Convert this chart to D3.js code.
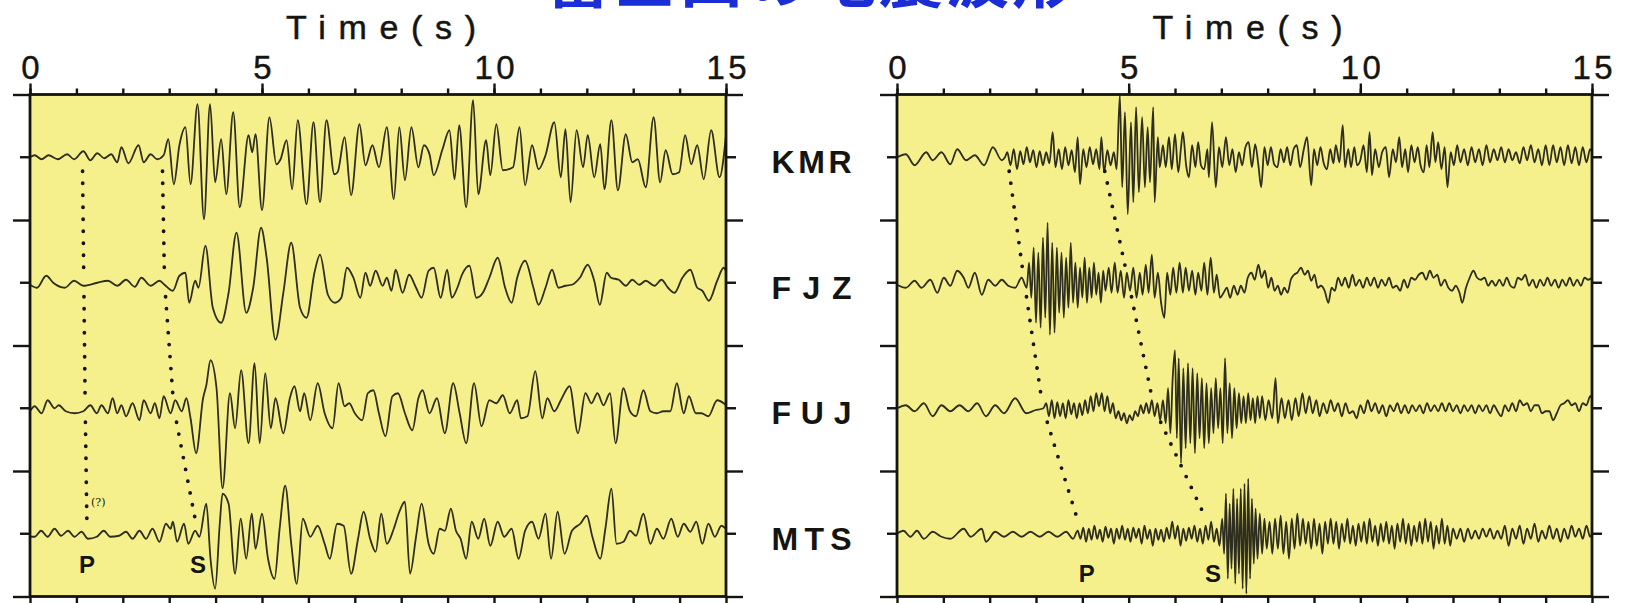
<!DOCTYPE html>
<html>
<head>
<meta charset="utf-8">
<script src="https://cdn.jsdelivr.net/npm/d3@7/dist/d3.min.js"></script>
<style>
body{margin:0;background:#fff;}
svg{display:block;}
</style>
</head>
<body>
<div id="app"></div>
<script>
// ---- data (time in s, amplitude in relative units) ----
const title = '富士山の地震波形'
const axisTitle = 'Time(s)'
const stations = ['KMR', 'FJZ', 'FUJ', 'MTS']
const majorTicks = [0, 5, 10, 15]
const minorTicks = [0, 1, 2, 3, 4, 5, 6, 7, 8, 9, 10, 11, 12, 13, 14, 15]

// P / S arrival picks per station (KMR, FJZ, FUJ, MTS)
const pLeft = [1.13, 1.16, 1.19, 1.23]
const sLeft = [2.85, 2.9, 3.1, 3.62]
const pRight = [2.38, 2.75, 3.15, 3.99]
const sRight = [4.42, 5.0, 5.55, 6.82]

const kmrLeft = [[0,0],[0.1,2],[0.25,-2],[0.4,2],[0.6,-2],[0.8,3],[0.95,-2],[1.15,6],[1.3,-3],[1.45,4],[1.6,-1],[1.75,3],[1.88,-5],[1.97,10],[2.12,-6],[2.34,12],[2.45,-5],[2.6,3],[2.74,-2],[2.88,2],[2.98,18],[3.10,-27],[3.22,12],[3.35,30],[3.46,-27],[3.61,53],[3.75,-62],[3.88,53],[3.99,-25],[4.12,18],[4.23,-37],[4.38,45],[4.52,-50],[4.71,22],[4.79,5],[4.86,23],[5.00,-53],[5.16,40],[5.31,-7],[5.40,-2],[5.53,17],[5.65,-32],[5.77,37],[5.96,-47],[6.11,35],[6.25,-45],[6.39,37],[6.56,-17],[6.63,-15],[6.78,20],[6.92,-38],[7.10,33],[7.23,-8],[7.38,12],[7.52,-10],[7.69,30],[7.84,-42],[7.96,30],[8.08,-23],[8.22,30],[8.37,-10],[8.49,12],[8.61,3],[8.70,-18],[8.89,8],[9.04,27],[9.15,-22],[9.25,32],[9.40,-50],[9.55,57],[9.66,-37],[9.83,17],[9.92,-18],[10.05,33],[10.19,-13],[10.41,-10],[10.55,30],[10.67,-28],[10.82,12],[10.96,-12],[11.11,2],[11.30,35],[11.44,-20],[11.54,28],[11.65,-45],[11.78,27],[11.92,-10],[12.02,22],[12.16,-20],[12.29,13],[12.38,-32],[12.53,37],[12.67,-33],[12.84,23],[12.98,-5],[13.10,-2],[13.27,-30],[13.44,40],[13.58,-25],[13.70,7],[13.85,-17],[13.99,-15],[14.12,22],[14.25,-7],[14.38,12],[14.52,-22],[14.68,27],[14.86,-20],[15,22]]

const fjzLeft = [[0,-2],[0.15,-5],[0.35,7],[0.5,0],[0.75,-5],[0.95,2],[1.15,-3],[1.45,0],[1.68,2],[1.88,-3],[2.07,3],[2.26,-4],[2.4,5],[2.6,-3],[2.79,2],[2.9,-2],[3.08,-8],[3.22,7],[3.35,10],[3.43,-20],[3.56,2],[3.63,-5],[3.78,37],[3.94,-25],[4.12,-40],[4.28,-10],[4.45,50],[4.66,-30],[4.81,-5],[4.98,55],[5.10,25],[5.29,-57],[5.46,-10],[5.63,40],[5.82,-25],[5.96,-35],[6.13,10],[6.25,28],[6.42,-12],[6.57,-20],[6.71,-15],[6.83,15],[6.97,5],[7.12,-15],[7.23,10],[7.33,-3],[7.45,12],[7.60,-3],[7.69,5],[7.79,-8],[7.88,13],[8.03,-10],[8.17,8],[8.32,-5],[8.44,-15],[8.59,12],[8.70,15],[8.85,-15],[8.99,13],[9.09,-15],[9.21,-5],[9.31,8],[9.47,17],[9.62,-15],[9.76,-10],[9.90,5],[10.08,25],[10.24,-5],[10.38,-20],[10.50,5],[10.67,22],[10.85,-5],[10.96,-22],[11.11,-5],[11.25,13],[11.39,-5],[11.54,-3],[11.68,-2],[11.85,5],[12.02,18],[12.16,2],[12.28,-22],[12.43,10],[12.52,5],[12.69,3],[12.84,-3],[12.98,3],[13.13,-2],[13.27,2],[13.46,-3],[13.61,3],[13.75,-5],[13.89,-10],[14.06,5],[14.23,13],[14.38,-5],[14.49,-8],[14.63,-18],[14.81,2],[14.95,15],[15,12]]

const fujLeft = [[0,-3],[0.1,2],[0.25,-5],[0.38,8],[0.53,0],[0.62,3],[0.77,-3],[0.96,-5],[1.15,-3],[1.3,3],[1.44,-5],[1.54,3],[1.68,-5],[1.78,10],[1.88,-5],[1.97,3],[2.07,-8],[2.21,5],[2.36,-12],[2.45,8],[2.6,-5],[2.69,5],[2.79,-10],[2.88,12],[3.03,-5],[3.13,8],[3.27,-3],[3.37,10],[3.46,-10],[3.58,-45],[3.73,10],[3.80,23],[3.89,48],[4.02,20],[4.15,-80],[4.31,15],[4.42,-20],[4.55,38],[4.71,-35],[4.84,45],[4.95,-35],[5.07,35],[5.19,-20],[5.29,10],[5.46,-25],[5.60,10],[5.70,22],[5.82,-3],[5.91,15],[6.04,-12],[6.20,25],[6.35,-5],[6.52,-20],[6.65,25],[6.78,2],[6.88,5],[7.00,-5],[7.16,-12],[7.28,15],[7.40,18],[7.52,-5],[7.66,-28],[7.81,12],[7.93,15],[8.08,-5],[8.24,-22],[8.37,10],[8.46,18],[8.61,-5],[8.77,10],[8.94,-25],[9.12,25],[9.26,-5],[9.40,-35],[9.57,25],[9.73,-18],[9.90,8],[10.05,5],[10.19,13],[10.34,-5],[10.50,8],[10.58,-10],[10.72,-8],[10.89,37],[11.04,-10],[11.15,10],[11.30,-3],[11.44,8],[11.63,22],[11.81,-25],[11.97,15],[12.10,5],[12.23,15],[12.36,3],[12.50,15],[12.62,-35],[12.79,20],[12.93,-3],[13.06,-8],[13.22,18],[13.37,-3],[13.51,-5],[13.65,-3],[13.80,-3],[13.94,25],[14.09,-5],[14.20,12],[14.35,-5],[14.47,-5],[14.62,-8],[14.81,8],[14.95,5],[15,3]]

const mtsLeft = [[0,-3],[0.1,-3],[0.24,3],[0.38,-3],[0.53,5],[0.67,-2],[0.82,3],[0.96,-3],[1.11,2],[1.25,-5],[1.44,-3],[1.59,3],[1.73,-3],[1.92,-2],[2.07,2],[2.21,-5],[2.36,3],[2.5,-5],[2.64,5],[2.79,-8],[2.93,10],[3.03,5],[3.08,12],[3.17,-8],[3.32,10],[3.41,-10],[3.56,3],[3.65,-3],[3.80,30],[3.89,-25],[3.99,-55],[4.09,10],[4.15,40],[4.28,30],[4.42,-40],[4.54,15],[4.66,-25],[4.78,20],[4.86,-15],[5.00,20],[5.13,-25],[5.27,-45],[5.38,5],[5.50,48],[5.63,-10],[5.75,-50],[5.88,15],[6.04,-3],[6.20,8],[6.35,-10],[6.46,-25],[6.62,10],[6.76,8],[6.92,-40],[7.07,-5],[7.19,22],[7.33,-5],[7.45,-18],[7.57,20],[7.69,-10],[7.84,5],[7.96,22],[8.08,32],[8.19,-40],[8.32,-3],[8.44,30],[8.59,-10],[8.70,-20],[8.83,5],[8.94,3],[9.07,25],[9.18,3],[9.28,-5],[9.40,-25],[9.52,12],[9.66,-5],[9.79,15],[9.92,-12],[10.08,12],[10.22,-3],[10.38,5],[10.53,-25],[10.67,3],[10.82,12],[10.96,-5],[11.11,20],[11.23,-25],[11.37,22],[11.52,-20],[11.68,3],[11.86,10],[12.00,18],[12.12,-3],[12.29,-25],[12.40,5],[12.53,45],[12.64,-10],[12.79,-8],[12.93,3],[13.06,-2],[13.22,20],[13.37,-10],[13.51,5],[13.65,-5],[13.82,15],[13.96,-3],[14.09,10],[14.23,2],[14.36,12],[14.49,-10],[14.62,10],[14.76,-3],[14.90,8],[15,5]]

const kmrRight = [[0,0],[0.19,3],[0.38,-8],[0.63,5],[0.77,-3],[0.96,5],[1.15,-7],[1.30,8],[1.49,-3],[1.68,2],[1.88,-8],[2.07,10],[2.26,-3],[2.33,0],[2.38,5],[2.45,-8],[2.52,8],[2.59,-12],[2.66,6],[2.73,-7],[2.80,10],[2.87,-5],[2.94,7],[3.01,-10],[3.08,6],[3.15,-8],[3.22,5],[3.29,-6],[3.36,25],[3.42,-10],[3.49,8],[3.56,-12],[3.63,10],[3.70,-8],[3.77,7],[3.84,-15],[3.90,20],[3.95,-27],[4.02,8],[4.09,-10],[4.16,10],[4.23,-7],[4.30,8],[4.37,-12],[4.41,20],[4.47,-15],[4.54,7],[4.61,-8],[4.68,5],[4.74,-12],[4.81,62],[4.86,-30],[4.92,45],[4.98,-57],[5.05,35],[5.10,-45],[5.16,50],[5.22,-35],[5.29,40],[5.35,-30],[5.41,30],[5.46,-25],[5.53,50],[5.56,-45],[5.63,20],[5.67,-10],[5.74,12],[5.80,-10],[5.87,20],[5.93,-12],[6.00,23],[6.07,-15],[6.13,10],[6.17,25],[6.24,-8],[6.30,-20],[6.37,12],[6.44,-10],[6.50,15],[6.56,-8],[6.63,-12],[6.70,8],[6.73,-20],[6.80,35],[6.88,-30],[6.95,10],[7.02,-10],[7.10,20],[7.17,-8],[7.24,8],[7.31,-15],[7.38,5],[7.45,-8],[7.52,10],[7.59,15],[7.66,-10],[7.73,13],[7.80,-8],[7.86,-30],[7.93,10],[8.00,-8],[8.07,10],[8.14,-7],[8.21,-10],[8.28,8],[8.35,-5],[8.42,10],[8.49,-8],[8.56,8],[8.63,12],[8.70,-10],[8.78,8],[8.85,20],[8.94,-28],[9.00,8],[9.07,-8],[9.14,10],[9.21,-6],[9.28,-12],[9.35,8],[9.42,-6],[9.47,12],[9.55,-5],[9.62,32],[9.67,-10],[9.74,8],[9.80,-10],[9.87,10],[9.93,-8],[10.00,-3],[10.07,12],[10.14,-15],[10.20,25],[10.25,-18],[10.32,8],[10.40,-10],[10.47,5],[10.55,10],[10.62,-20],[10.70,8],[10.77,-5],[10.84,20],[10.90,-10],[10.97,8],[11.03,-15],[11.10,12],[11.17,-5],[11.24,10],[11.30,-8],[11.37,-15],[11.43,12],[11.49,-10],[11.56,25],[11.62,-5],[11.68,15],[11.75,-12],[11.82,10],[11.88,-30],[11.95,5],[12.02,-8],[12.09,12],[12.16,-5],[12.24,8],[12.32,-8],[12.40,10],[12.48,-5],[12.56,8],[12.64,-8],[12.72,12],[12.80,-5],[12.88,8],[12.96,-3],[13.04,10],[13.12,-5],[13.20,8],[13.28,-3],[13.36,5],[13.44,-6],[13.52,10],[13.60,-3],[13.68,12],[13.76,-5],[13.84,8],[13.92,-8],[14.00,12],[14.08,-8],[14.16,12],[14.24,-5],[14.32,10],[14.40,-8],[14.48,12],[14.56,-6],[14.64,10],[14.72,-8],[14.80,10],[14.88,-5],[14.96,8],[15,5]]

const fjzRight = [[0,-2],[0.19,-5],[0.38,2],[0.53,-5],[0.72,3],[0.87,-10],[1.01,5],[1.15,-3],[1.30,12],[1.44,5],[1.54,-5],[1.68,10],[1.83,-12],[1.97,3],[2.12,-3],[2.26,3],[2.40,-3],[2.55,-5],[2.69,5],[2.80,-5],[2.85,20],[2.90,-15],[2.95,35],[3.00,-40],[3.05,30],[3.10,-45],[3.15,45],[3.20,-35],[3.25,60],[3.30,-52],[3.35,40],[3.40,-50],[3.45,35],[3.50,-30],[3.55,30],[3.60,-35],[3.65,25],[3.70,-25],[3.75,40],[3.80,-20],[3.85,20],[3.90,-25],[3.95,15],[4.00,-15],[4.05,25],[4.10,-20],[4.15,15],[4.20,-15],[4.25,20],[4.30,-12],[4.35,10],[4.40,-20],[4.45,12],[4.50,-8],[4.57,15],[4.63,-10],[4.70,20],[4.76,-10],[4.83,12],[4.90,-15],[4.96,10],[5.03,-8],[5.10,15],[5.17,-15],[5.24,10],[5.30,-12],[5.37,18],[5.43,-10],[5.50,28],[5.56,-15],[5.63,10],[5.70,-20],[5.77,-35],[5.83,10],[5.90,-12],[5.96,15],[6.03,-10],[6.10,20],[6.17,-10],[6.23,15],[6.30,-8],[6.37,12],[6.44,-12],[6.50,10],[6.57,-8],[6.63,20],[6.70,-12],[6.77,25],[6.84,-10],[6.90,8],[6.97,-15],[7.05,-10],[7.12,-5],[7.19,-15],[7.27,-3],[7.35,-12],[7.42,-3],[7.50,-10],[7.57,5],[7.65,10],[7.72,3],[7.80,18],[7.87,5],[7.94,12],[8.01,-5],[8.08,5],[8.15,-8],[8.22,-3],[8.29,-12],[8.36,-5],[8.43,-10],[8.50,3],[8.57,8],[8.64,10],[8.72,15],[8.80,8],[8.87,12],[8.94,2],[9.01,8],[9.08,-5],[9.15,-3],[9.23,-8],[9.31,-20],[9.38,-5],[9.45,-8],[9.52,5],[9.60,-3],[9.67,5],[9.75,-5],[9.83,8],[9.90,-3],[9.98,3],[10.06,-5],[10.14,5],[10.22,-3],[10.30,5],[10.38,-5],[10.46,3],[10.54,-3],[10.62,5],[10.70,-5],[10.78,-3],[10.86,-8],[10.94,3],[11.02,-5],[11.10,5],[11.18,3],[11.26,8],[11.34,10],[11.42,3],[11.50,12],[11.58,5],[11.66,8],[11.74,-3],[11.82,3],[11.90,-5],[11.98,-8],[12.06,-3],[12.14,-10],[12.20,-20],[12.28,-5],[12.36,5],[12.44,12],[12.52,5],[12.60,3],[12.68,5],[12.76,-3],[12.84,2],[12.92,-3],[13.00,3],[13.08,-3],[13.16,5],[13.24,-3],[13.32,-5],[13.40,5],[13.48,3],[13.56,8],[13.64,-3],[13.72,3],[13.80,-5],[13.88,3],[13.96,-3],[14.04,5],[14.12,-3],[14.20,3],[14.28,-5],[14.36,3],[14.44,-3],[14.52,5],[14.60,-3],[14.68,3],[14.76,-3],[14.84,5],[14.92,3],[15,5]]

const fujRight = [[0,0],[0.19,3],[0.38,-3],[0.58,5],[0.77,-8],[0.96,3],[1.15,-3],[1.35,3],[1.54,-3],[1.73,5],[1.92,-8],[2.12,3],[2.31,-5],[2.55,10],[2.79,-5],[2.98,-2],[3.16,0],[3.22,5],[3.28,-8],[3.34,8],[3.40,-10],[3.46,6],[3.52,-8],[3.58,5],[3.64,-10],[3.70,8],[3.76,-6],[3.82,5],[3.88,-10],[3.94,5],[4.00,-7],[4.06,8],[4.12,-5],[4.18,12],[4.24,-3],[4.30,15],[4.36,2],[4.42,15],[4.48,-3],[4.54,12],[4.60,-5],[4.66,5],[4.72,-10],[4.78,-3],[4.84,-12],[4.90,-5],[4.96,-15],[5.02,-7],[5.08,-12],[5.14,-3],[5.20,-8],[5.26,3],[5.32,-5],[5.38,5],[5.44,-5],[5.50,8],[5.56,-8],[5.62,5],[5.68,-12],[5.74,8],[5.80,-15],[5.85,20],[5.90,-25],[5.95,30],[6.00,58],[6.04,-30],[6.08,50],[6.13,-55],[6.18,40],[6.23,-40],[6.28,45],[6.33,-35],[6.38,40],[6.43,-45],[6.48,35],[6.53,-30],[6.58,30],[6.63,-40],[6.68,25],[6.73,-35],[6.78,20],[6.83,-25],[6.88,30],[6.93,-20],[6.98,20],[7.03,-35],[7.08,50],[7.13,-25],[7.18,25],[7.23,-30],[7.28,20],[7.33,-20],[7.38,15],[7.43,-15],[7.48,12],[7.53,-15],[7.58,15],[7.63,-12],[7.68,10],[7.73,-15],[7.78,12],[7.83,-10],[7.88,12],[7.95,-12],[8.02,8],[8.10,-10],[8.17,30],[8.22,-15],[8.30,10],[8.37,-10],[8.45,8],[8.52,-12],[8.60,10],[8.67,-8],[8.75,15],[8.82,-5],[8.90,12],[8.97,-5],[9.05,8],[9.12,-8],[9.20,5],[9.28,-5],[9.36,8],[9.44,-3],[9.52,5],[9.60,-8],[9.68,5],[9.76,-5],[9.84,-3],[9.92,-10],[10.00,3],[10.08,-5],[10.16,8],[10.24,-3],[10.32,5],[10.40,-5],[10.48,3],[10.56,-8],[10.64,3],[10.72,-3],[10.80,5],[10.88,-5],[10.96,3],[11.04,-5],[11.12,3],[11.20,-3],[11.28,3],[11.36,-5],[11.44,5],[11.52,-3],[11.60,3],[11.68,-3],[11.76,5],[11.84,-3],[11.92,5],[12.00,-3],[12.08,3],[12.16,-5],[12.24,3],[12.32,-3],[12.40,3],[12.48,-5],[12.56,3],[12.64,-3],[12.72,3],[12.80,-5],[12.88,3],[12.96,-3],[13.04,-8],[13.12,3],[13.20,-3],[13.28,5],[13.36,-3],[13.44,8],[13.52,3],[13.60,5],[13.68,-3],[13.76,3],[13.84,3],[13.92,-5],[14.00,-3],[14.08,-3],[14.16,-12],[14.24,-5],[14.32,3],[14.40,5],[14.48,8],[14.56,3],[14.64,5],[14.72,-3],[14.80,5],[14.88,3],[14.96,12],[15,10]]

const mtsRight = [[0,0],[0.14,3],[0.29,-3],[0.43,3],[0.58,-5],[0.77,2],[0.96,-3],[1.15,-5],[1.44,5],[1.59,-3],[1.83,5],[1.92,-8],[2.12,2],[2.31,-3],[2.5,2],[2.69,-3],[2.88,2],[3.08,-3],[3.27,2],[3.46,-3],[3.65,2],[3.80,-5],[3.90,3],[3.96,-5],[4.02,6],[4.08,-8],[4.14,5],[4.20,-6],[4.26,8],[4.32,-5],[4.38,4],[4.44,-8],[4.50,7],[4.56,-4],[4.62,5],[4.68,-10],[4.74,5],[4.80,-5],[4.86,8],[4.92,-6],[4.98,5],[5.04,-8],[5.10,6],[5.16,-4],[5.22,5],[5.28,-10],[5.34,8],[5.40,-5],[5.46,4],[5.52,-12],[5.58,5],[5.64,-6],[5.70,4],[5.76,-8],[5.82,6],[5.88,-5],[5.94,12],[6.00,-5],[6.06,8],[6.12,-12],[6.18,5],[6.24,-7],[6.30,6],[6.36,-5],[6.42,8],[6.48,-8],[6.54,5],[6.60,-10],[6.66,8],[6.72,-6],[6.78,12],[6.84,-8],[6.90,5],[6.96,-12],[7.02,15],[7.06,-20],[7.10,40],[7.14,-45],[7.18,30],[7.22,-35],[7.26,45],[7.30,-50],[7.34,35],[7.38,-40],[7.42,45],[7.46,-55],[7.50,50],[7.54,-60],[7.58,55],[7.62,-45],[7.66,35],[7.70,-30],[7.74,25],[7.78,-25],[7.83,20],[7.88,-20],[7.93,15],[7.98,-15],[8.04,12],[8.10,-20],[8.16,15],[8.22,-15],[8.28,18],[8.34,-20],[8.40,12],[8.46,-25],[8.52,15],[8.58,-15],[8.64,20],[8.70,-12],[8.76,15],[8.82,-10],[8.88,12],[8.94,-15],[9.00,15],[9.06,-12],[9.12,10],[9.18,-20],[9.24,12],[9.30,-10],[9.36,15],[9.42,-10],[9.48,12],[9.54,-15],[9.60,10],[9.66,-8],[9.72,15],[9.78,-10],[9.84,8],[9.90,-12],[9.96,10],[10.02,-8],[10.08,12],[10.14,-10],[10.20,15],[10.26,-8],[10.32,8],[10.38,-12],[10.44,10],[10.50,-8],[10.56,12],[10.62,-10],[10.68,8],[10.74,-15],[10.80,10],[10.86,-8],[10.92,15],[10.98,-10],[11.04,10],[11.10,-12],[11.16,8],[11.22,-8],[11.28,12],[11.34,-10],[11.40,15],[11.46,-8],[11.52,12],[11.58,-15],[11.64,8],[11.70,-10],[11.76,15],[11.82,-10],[11.88,8],[11.94,-12],[12.00,5],[12.08,-5],[12.16,5],[12.24,-8],[12.32,5],[12.40,-5],[12.48,3],[12.56,-5],[12.64,5],[12.72,-3],[12.80,5],[12.88,-5],[12.96,3],[13.04,-5],[13.12,8],[13.20,-12],[13.28,5],[13.36,-5],[13.44,8],[13.52,-10],[13.60,5],[13.68,-5],[13.76,10],[13.84,-8],[13.92,3],[14.00,-5],[14.08,8],[14.16,-5],[14.24,5],[14.32,-8],[14.40,5],[14.48,-5],[14.56,8],[14.64,-3],[14.72,5],[14.80,-5],[14.88,8],[14.96,-3],[15,0]]

// ---- drawing ----
const yellow = '#f6f08c'
const ink = '#141410'
const traceColor = '#2e2e1e'

let svg = d3.select('#app').append('svg')
  .attr('width', 1626)
  .attr('height', 603)

const rowY = d3.scaleLinear().domain([0, 4]).range([94.5, 596.5])
const band = d3.scaleBand().domain(stations).range([94.5, 596.5])
const center = s => band(s) + band.bandwidth() / 2
const amp = d3.scaleLinear().domain([-60, 60]).range([60, -60])

const panels = [
  {id: 'L', x: d3.scaleLinear().domain([0, 15]).range([30, 726]), traces: [kmrLeft, fjzLeft, fujLeft, mtsLeft], p: pLeft, s: sLeft, labelY: 573, pdx: 0},
  {id: 'R', x: d3.scaleLinear().domain([0, 15]).range([897, 1592]), traces: [kmrRight, fjzRight, fujRight, mtsRight], p: pRight, s: sRight, labelY: 582, pdx: 5},
]

// blue heading, mostly cut off by the top edge
svg.append('text')
  .attr('x', 811)
  .attr('y', 2)
  .attr('text-anchor', 'middle')
  .attr('font-family', '"Noto Sans CJK JP", sans-serif')
  .attr('font-weight', 'bold')
  .attr('font-size', 64)
  .attr('textLength', 530)
  .attr('fill', '#1a2dd6')
  .text(title)

let defs = svg.append('defs')

panels.forEach(P => {
  const x = P.x
  const g = svg.append('g')

  defs.append('clipPath')
    .attr('id', 'clip' + P.id)
    .append('rect')
    .attr('x', x(0))
    .attr('y', rowY(0))
    .attr('width', x(15) - x(0))
    .attr('height', rowY(4) - rowY(0))

  g.append('rect')
    .attr('x', x(0))
    .attr('y', rowY(0))
    .attr('width', x(15) - x(0))
    .attr('height', rowY(4) - rowY(0))
    .attr('fill', yellow)

  // seismograms
  const tg = g.append('g').attr('clip-path', `url(#clip${P.id})`)
  P.traces.forEach((tr, i) => {
    const base = center(stations[i])
    const line = d3.line()
      .x(d => x(d[0]))
      .y(d => base + amp(d[1]))
      .curve(d3.curveMonotoneX)
    tg.append('path')
      .attr('d', line(tr))
      .attr('fill', 'none')
      .attr('stroke', traceColor)
      .attr('stroke-width', 1.8)
      .attr('stroke-linejoin', 'round')
  })

  // dotted P and S arrival lines between neighbouring stations
  const gap = 14
  ;[P.p, P.s].forEach(times => {
    for (let i = 0; i < times.length - 1; i++) {
      const x0 = x(times[i]), x1 = x(times[i + 1])
      const y0 = center(stations[i]), y1 = center(stations[i + 1])
      const k = gap / (y1 - y0)
      tg.append('line')
        .attr('x1', x0 + (x1 - x0) * k)
        .attr('y1', y0 + gap)
        .attr('x2', x1 - (x1 - x0) * k)
        .attr('y2', y1 - gap)
        .attr('stroke', ink)
        .attr('stroke-width', 3.8)
        .attr('stroke-linecap', 'round')
        .attr('stroke-dasharray', '0 12')
    }
  })

  // P / S letters under the last trace
  g.append('text')
    .attr('x', x(P.p[3]) + P.pdx)
    .attr('y', P.labelY)
    .attr('text-anchor', 'middle')
    .attr('font-family', '"Liberation Sans", Arial, sans-serif')
    .attr('font-weight', 'bold')
    .attr('font-size', 24)
    .attr('fill', ink)
    .text('P')
  g.append('text')
    .attr('x', x(P.s[3]))
    .attr('y', P.labelY)
    .attr('text-anchor', 'middle')
    .attr('font-family', '"Liberation Sans", Arial, sans-serif')
    .attr('font-weight', 'bold')
    .attr('font-size', 24)
    .attr('fill', ink)
    .text('S')

  // frame
  g.append('rect')
    .attr('x', x(0))
    .attr('y', rowY(0))
    .attr('width', x(15) - x(0))
    .attr('height', rowY(4) - rowY(0))
    .attr('fill', 'none')
    .attr('stroke', ink)
    .attr('stroke-width', 2.8)

  // time axes
  g.append('g')
    .attr('transform', `translate(0,${rowY(0)})`)
    .call(d3.axisTop(x).tickValues(minorTicks).tickSize(6).tickFormat(''))
  const topMajor = g.append('g')
    .attr('transform', `translate(0,${rowY(0)})`)
    .call(d3.axisTop(x).tickValues(majorTicks).tickSize(11).tickPadding(5))
  g.append('g')
    .attr('transform', `translate(0,${rowY(4)})`)
    .call(d3.axisBottom(x).tickValues(minorTicks).tickSize(7).tickFormat(''))

  // station ticks on both sides
  const sideL = g.append('g').attr('transform', `translate(${x(0)},0)`)
  sideL.append('g').call(d3.axisLeft(rowY).tickValues([0, 1, 2, 3, 4]).tickSize(17).tickFormat(''))
  sideL.append('g').call(d3.axisLeft(band).tickSize(10).tickFormat(''))
  const sideR = g.append('g').attr('transform', `translate(${x(15)},0)`)
  sideR.append('g').call(d3.axisRight(rowY).tickValues([0, 1, 2, 3, 4]).tickSize(17).tickFormat(''))
  sideR.append('g').call(d3.axisRight(band).tickSize(10).tickFormat(''))

  g.selectAll('.domain').remove()
  g.selectAll('.tick line').attr('stroke', ink).attr('stroke-width', 2.4)

  topMajor.selectAll('text')
    .attr('fill', ink)
    .attr('font-family', '"Liberation Sans", Arial, sans-serif')
    .attr('font-size', 33)
    .attr('stroke', ink)
    .attr('stroke-width', 0.4)
    .each(function(d) {
      if (String(d).length > 1) d3.select(this).attr('textLength', 40).attr('lengthAdjust', 'spacing')
    })

  g.append('text')
    .attr('x', x(7.5) + 3)
    .attr('y', 39)
    .attr('text-anchor', 'middle')
    .attr('font-family', '"Liberation Sans", Arial, sans-serif')
    .attr('font-size', 34)
    .attr('textLength', 190)
    .attr('lengthAdjust', 'spacing')
    .attr('fill', ink)
    .attr('stroke', ink)
    .attr('stroke-width', 0.5)
    .text(axisTitle)
})

// station names between the panels
svg.append('g').selectAll('text')
  .data(stations)
  .enter()
  .append('text')
  .attr('x', (panels[0].x(15) + panels[1].x(0)) / 2)
  .attr('y', d => center(d) + 16)
  .attr('text-anchor', 'middle')
  .attr('font-family', '"Liberation Sans", Arial, sans-serif')
  .attr('font-weight', 'bold')
  .attr('font-size', 32)
  .attr('textLength', 80)
  .attr('lengthAdjust', 'spacing')
  .attr('fill', ink)
  .text(d => d)

// the uncertain P pick at MTS
svg.append('text')
  .attr('x', panels[0].x(pLeft[3]) + 4)
  .attr('y', 506)
  .attr('font-family', '"DejaVu Serif", serif')
  .attr('font-size', 11)
  .attr('fill', ink)
  .text('(?)')
</script>
</body>
</html>
